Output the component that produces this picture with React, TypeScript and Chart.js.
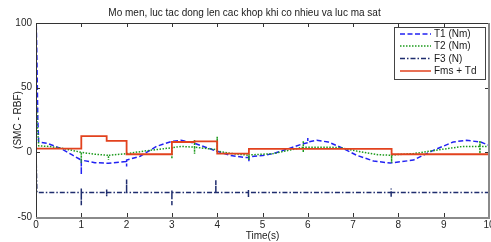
import React, { useEffect, useRef } from "react";
import { Chart, registerables } from "chart.js";

Chart.register(...registerables);

const titleText = "Mo men, luc tac dong len cac khop khi co nhieu va luc ma sat";
const xAxisLabel = "Time(s)";
const yAxisLabel = "(SMC - RBF)";
const seriesNames = ["T1 (Nm)", "T2 (Nm)", "F3 (N)", "Fms + Td"];
const seriesColors = ["#2222f2", "#1c9a1c", "#1f2d6e", "#e2421e"];

const xTickValues = [0, 1, 2, 3, 4, 5, 6, 7, 8, 9, 10];
const yTickValues = [-50, 0, 50, 100];

// T1 (Nm)
const t1Time = [0, 0.02, 0.04, 0.06, 0.25, 0.55, 0.8, 1.0, 1.0, 1.0, 1.3, 1.6, 2.0, 2.0, 2.0, 2.3, 2.66, 3.0, 3.2, 3.5, 3.9, 4.3, 4.6, 4.7, 4.7, 4.7, 5.0, 5.24, 5.5, 5.9, 6.0, 6.0, 6.0, 6.2, 6.45, 6.72, 7.08, 7.45, 7.82, 8.33, 8.77, 9.21, 9.5, 9.81, 10];
const t1Value = [110, 73, 25, 8, 7, 3, -2, -6, -17, -6, -8, -8.5, -7, -11, -6, -3, 4.6, 8.5, 9.3, 7, 2, -2.5, -4, -4, -7, -3.5, -2.5, -1, 2, 6.7, 7.5, 11, 8, 9.3, 8, 4, -2.3, -6.7, -8.3, -6, 1.5, 8, 9.3, 8, 5.4];

// T2 (Nm)
const t2Time = [0, 0.03, 0.06, 0.3, 0.6, 1.0, 1.0, 1.0, 1.3, 1.6, 1.6, 1.6, 2.0, 2.5, 3.0, 3.0, 3.0, 3.2, 3.5, 3.5, 3.5, 3.5, 4.0, 4.0, 4.0, 4.3, 4.7, 4.7, 4.7, 5.24, 5.9, 5.9, 5.9, 5.9, 6.46, 6.72, 7.08, 7.55, 7.85, 7.85, 7.85, 8.33, 8.9, 9.43, 9.8, 9.8, 9.8, 9.8, 10];
const t2Value = [45, 20, 5, 4.5, 3, 0, -8, 0, -1.5, -2.3, -6, -2.3, -1, 1.5, 3.5, -5, 3.5, 4.6, 4, 10, -1, 4, 2, 12, 1, -0.8, -2.3, -6, -2, -1, 4, 9, 0, 4, 4, 3.6, 1, -1.8, -2.3, -8, -2, -1, 2, 4.6, 4.6, 9, -1, 4.6, 4.6];

// F3 (N)
const f3Time = [0, 0.02, 1.0, 1.0, 1.0, 1.0, 1.56, 1.56, 1.56, 1.56, 2.0, 2.0, 2.0, 3.0, 3.0, 3.0, 3.0, 3.97, 3.97, 3.97, 4.69, 4.69, 4.69, 4.69, 7.84, 7.84, 7.84, 7.84, 10];
const f3Value = [0, -31, -31, -28, -41, -31, -31, -28.5, -34, -31, -31, -21, -31, -31, -29, -41, -31, -31, -21.5, -31, -31, -28.5, -34.5, -31, -31, -28, -35, -31, -31];

// Fms + Td
const fmsTime = [0, 1, 1, 1.56, 1.56, 2, 2, 3, 3, 3.5, 3.5, 4, 4, 4.7, 4.7, 7.85, 7.85, 10];
const fmsValue = [2.8, 2.8, 12.6, 12.6, 8.8, 8.8, -1.5, -1.5, 8, 8, 8.5, 8.5, -1, -1, 2.7, 2.7, -1.5, -1.5];

const seriesDashes: number[][] = [[5, 2.5], [1.5, 1.5], [5, 2, 1.5, 2], []];

const FONT = "'Liberation Sans', Arial, sans-serif";

function toPoints(ts: number[], vs: number[]) {
  return ts.map((t, i) => ({ x: t, y: vs[i] }));
}

const framePlugin = {
  id: "frame",
  afterDatasetsDraw(chart: any) {
    const { ctx, chartArea: a, scales } = chart;
    const xs = scales.x;
    const ys = scales.y;
    ctx.save();
    ctx.strokeStyle = "#333333";
    ctx.lineWidth = 1;
    const seg = (x1: number, y1: number, x2: number, y2: number) => {
      ctx.beginPath();
      ctx.moveTo(x1, y1);
      ctx.lineTo(x2, y2);
      ctx.stroke();
    };
    xTickValues.forEach((v) => {
      const px = Math.round(xs.getPixelForValue(v)) + 0.5;
      seg(px, a.bottom, px, a.bottom - 4);
      seg(px, a.top, px, a.top + 4);
    });
    yTickValues.forEach((v) => {
      const py = Math.round(ys.getPixelForValue(v)) + 0.5;
      seg(a.left, py, a.left + 4, py);
      seg(a.right, py, a.right - 4, py);
    });
    // frame
    seg(Math.round(a.left) + 0.5, a.top, Math.round(a.left) + 0.5, a.bottom);
    seg(a.left, Math.round(a.top) + 0.5, a.right, Math.round(a.top) + 0.5);
    ctx.strokeStyle = "#8a8a8a";
    ctx.lineWidth = 2;
    seg(a.left, Math.round(a.bottom) + 1, a.right, Math.round(a.bottom) + 1);
    seg(Math.round(a.right), a.top, Math.round(a.right), a.bottom + 2);

    // legend
    const bx = 394, by = 27, bw = 91, bh = 52;
    ctx.fillStyle = "#ffffff";
    ctx.fillRect(bx, by, bw, bh);
    ctx.strokeStyle = "#444444";
    ctx.lineWidth = 1;
    ctx.strokeRect(bx + 0.5, by + 0.5, bw, bh);
    const rowsY = [34, 46, 58.5, 71];
    ctx.font = `10px ${FONT}`;
    ctx.textBaseline = "middle";
    ctx.textAlign = "left";
    seriesNames.forEach((name, i) => {
      ctx.strokeStyle = seriesColors[i];
      ctx.lineWidth = 1.5;
      ctx.setLineDash(seriesDashes[i]);
      seg(400, rowsY[i], 431, rowsY[i]);
      ctx.setLineDash([]);
      ctx.fillStyle = "#1a1a1a";
      ctx.fillText(name, 434, rowsY[i] + 0.5);
    });
    ctx.restore();
  },
};

export default function App() {
  const canvasRef = useRef<HTMLCanvasElement | null>(null);

  useEffect(() => {
    const canvas = canvasRef.current;
    if (!canvas) return;
    const datasets = [
      { label: seriesNames[0], data: toPoints(t1Time, t1Value), order: 3 },
      { label: seriesNames[1], data: toPoints(t2Time, t2Value), order: 2 },
      { label: seriesNames[2], data: toPoints(f3Time, f3Value), order: 1 },
      { label: seriesNames[3], data: toPoints(fmsTime, fmsValue), order: 0 },
    ].map((d, i) => ({
      ...d,
      borderColor: seriesColors[i],
      backgroundColor: seriesColors[i],
      borderWidth: i === 3 ? 1.8 : 1.5,
      borderDash: seriesDashes[i],
      pointRadius: 0,
      tension: 0,
      fill: false,
    }));

    const chart = new Chart(canvas, {
      type: "line",
      data: { datasets },
      options: {
        animation: false,
        responsive: false,
        maintainAspectRatio: false,
        layout: { padding: { left: 0, right: 2, top: 0, bottom: 0 } },
        plugins: {
          legend: { display: false },
          tooltip: { enabled: false },
          title: {
            display: true,
            text: titleText,
            color: "#1a1a1a",
            font: { family: FONT, size: 10, weight: "normal" },
            padding: { top: 7, bottom: 4 },
          },
        },
        scales: {
          x: {
            type: "linear",
            min: 0,
            max: 10,
            afterBuildTicks: (s: any) => {
              s.ticks = xTickValues.map((v) => ({ value: v }));
            },
            afterFit: (s: any) => {
              s.height = 25;
              s.paddingLeft = 0;
              s.paddingRight = 0;
            },
            grid: { display: false, drawTicks: false },
            border: { display: false },
            ticks: {
              color: "#262626",
              font: { family: FONT, size: 10 },
              padding: 2,
              maxRotation: 0,
              autoSkip: false,
            },
            title: {
              display: true,
              text: xAxisLabel,
              color: "#1a1a1a",
              font: { family: FONT, size: 10 },
              padding: { top: 0, bottom: 0 },
            },
          },
          y: {
            type: "linear",
            min: -50,
            max: 100,
            afterBuildTicks: (s: any) => {
              s.ticks = yTickValues.map((v) => ({ value: v }));
            },
            afterFit: (s: any) => {
              s.width = 36;
              s.paddingTop = 0;
              s.paddingBottom = 0;
            },
            grid: { display: false, drawTicks: false },
            border: { display: false },
            ticks: {
              color: "#262626",
              font: { family: FONT, size: 10 },
              padding: 4,
              autoSkip: false,
            },
            title: {
              display: true,
              text: yAxisLabel,
              color: "#1a1a1a",
              font: { family: FONT, size: 10 },
              padding: { top: 12, bottom: 0 },
            },
          },
        },
      },
      plugins: [framePlugin],
    } as any);
    return () => chart.destroy();
  }, []);

  return (
    <div style={{ position: "fixed", left: 0, top: 0, width: 491, height: 242, background: "#ffffff" }}>
      <canvas ref={canvasRef} width={491} height={242} style={{ display: "block", width: 491, height: 242 }} />
    </div>
  );
}
